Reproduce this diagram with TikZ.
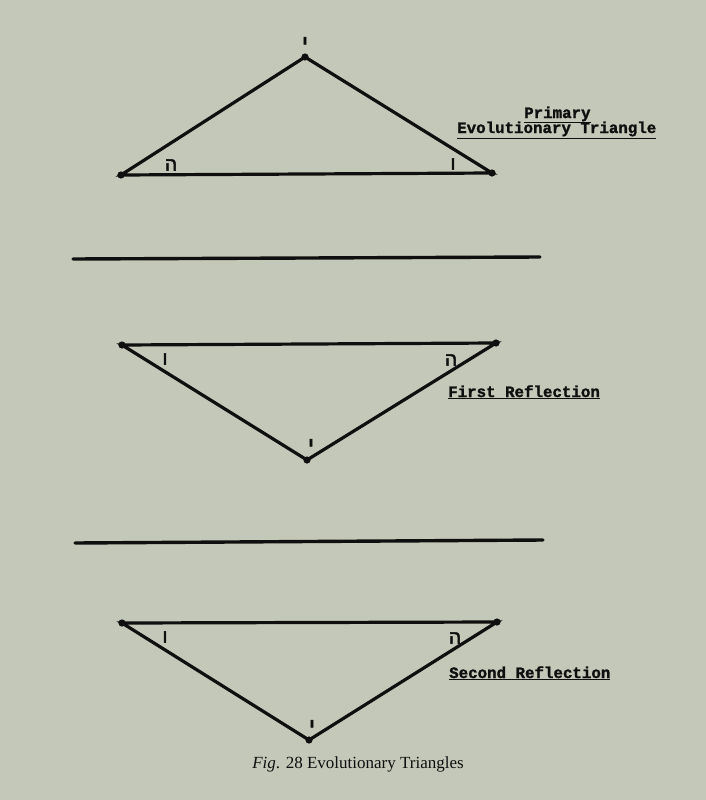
\documentclass[tikz,border=0pt]{standalone}
\usepackage{fontspec}
\setmainfont{Liberation Serif}
\setmonofont{Liberation Mono}
\newfontfamily\typefont[FakeBold=1.5]{Liberation Mono}
\newfontfamily\hebfont[Script=Hebrew,FakeBold=2.5]{Liberation Sans}
\TeXXeTstate=1
\definecolor{paper}{RGB}{196,200,184}
\definecolor{ink}{RGB}{15,15,15}

\begin{document}
\begin{tikzpicture}[x=1pt,y=-1pt,
    side/.style={draw=ink, line width=3.2pt, line cap=round, line join=miter},
    rule/.style={draw=ink, line width=3.4pt, line cap=round},
    letter/.style={inner sep=0pt, text=ink, font=\hebfont\fontsize{19}{19}\selectfont},
    yodh/.style={inner sep=0pt, text=ink, font=\hebfont\fontsize{23}{23}\selectfont},
    title/.style={anchor=base west, inner sep=0pt, text=ink, font=\typefont\bfseries\fontsize{15.8}{16}\selectfont}]
      \useasboundingbox (0,0) rectangle (706,800);
      \fill[fill=paper] (0,0) rectangle (706,800);

      % primary triangle
      \coordinate (pl) at (121,175);
      \coordinate (pr) at (492,173);
      \coordinate (pa) at (305,57);
      \draw[side] (pl) -- (pr) -- (pa) -- cycle;
      \foreach \p in {pl,pr,pa} \fill[ink] (\p) circle (3.6pt);

      \node[letter] (phe)  at (171,165) {\beginR ה\endR};
      \node[letter] (pvav) at (453,164) {\beginR ו\endR};
      \node[yodh]   (pyod) at (305,44)  {\beginR י\endR};

      \node[title] (prim) at (524,118) {\underline{Primary}};
      \node[title] (evol) at (457,133) {\underline{Evolutionary Triangle}};

      \coordinate (r1a) at (73,259);
      \coordinate (r1b) at (540,257);
      \draw[rule] (r1a) -- (r1b);

      % first reflection
      \coordinate (fl) at (122,345);
      \coordinate (fr) at (496,343);
      \coordinate (fb) at (307,460);
      \draw[side] (fl) -- (fr) -- (fb) -- cycle;
      \foreach \p in {fl,fr,fb} \fill[ink] (\p) circle (3.6pt);

      \node[letter] (fvav) at (165,359) {\beginR ו\endR};
      \node[letter] (fhe)  at (451,360) {\beginR ה\endR};
      \node[yodh]   (fyod) at (311,446) {\beginR י\endR};

      \node[title] (first) at (448,397) {\underline{First Reflection}};

      \coordinate (r2a) at (75,543);
      \coordinate (r2b) at (543,540);
      \draw[rule] (r2a) -- (r2b);

      % second reflection
      \coordinate (sl) at (122,623);
      \coordinate (sr) at (497,622);
      \coordinate (sb) at (309,740);
      \draw[side] (sl) -- (sr) -- (sb) -- cycle;
      \foreach \p in {sl,sr,sb} \fill[ink] (\p) circle (3.6pt);

      \node[letter] (svav) at (165,637) {\beginR ו\endR};
      \node[letter] (she)  at (455,638) {\beginR ה\endR};
      \node[yodh]   (syod) at (312,727) {\beginR י\endR};

      \node[title] (second) at (449,678) {\underline{Second Reflection}};

      \node[anchor=base, inner sep=0pt, text=ink, font=\fontsize{17}{17}\selectfont] (cap) at (358,768) {\textit{Fig}. 28 Evolutionary Triangles};
\end{tikzpicture}
\end{document}
